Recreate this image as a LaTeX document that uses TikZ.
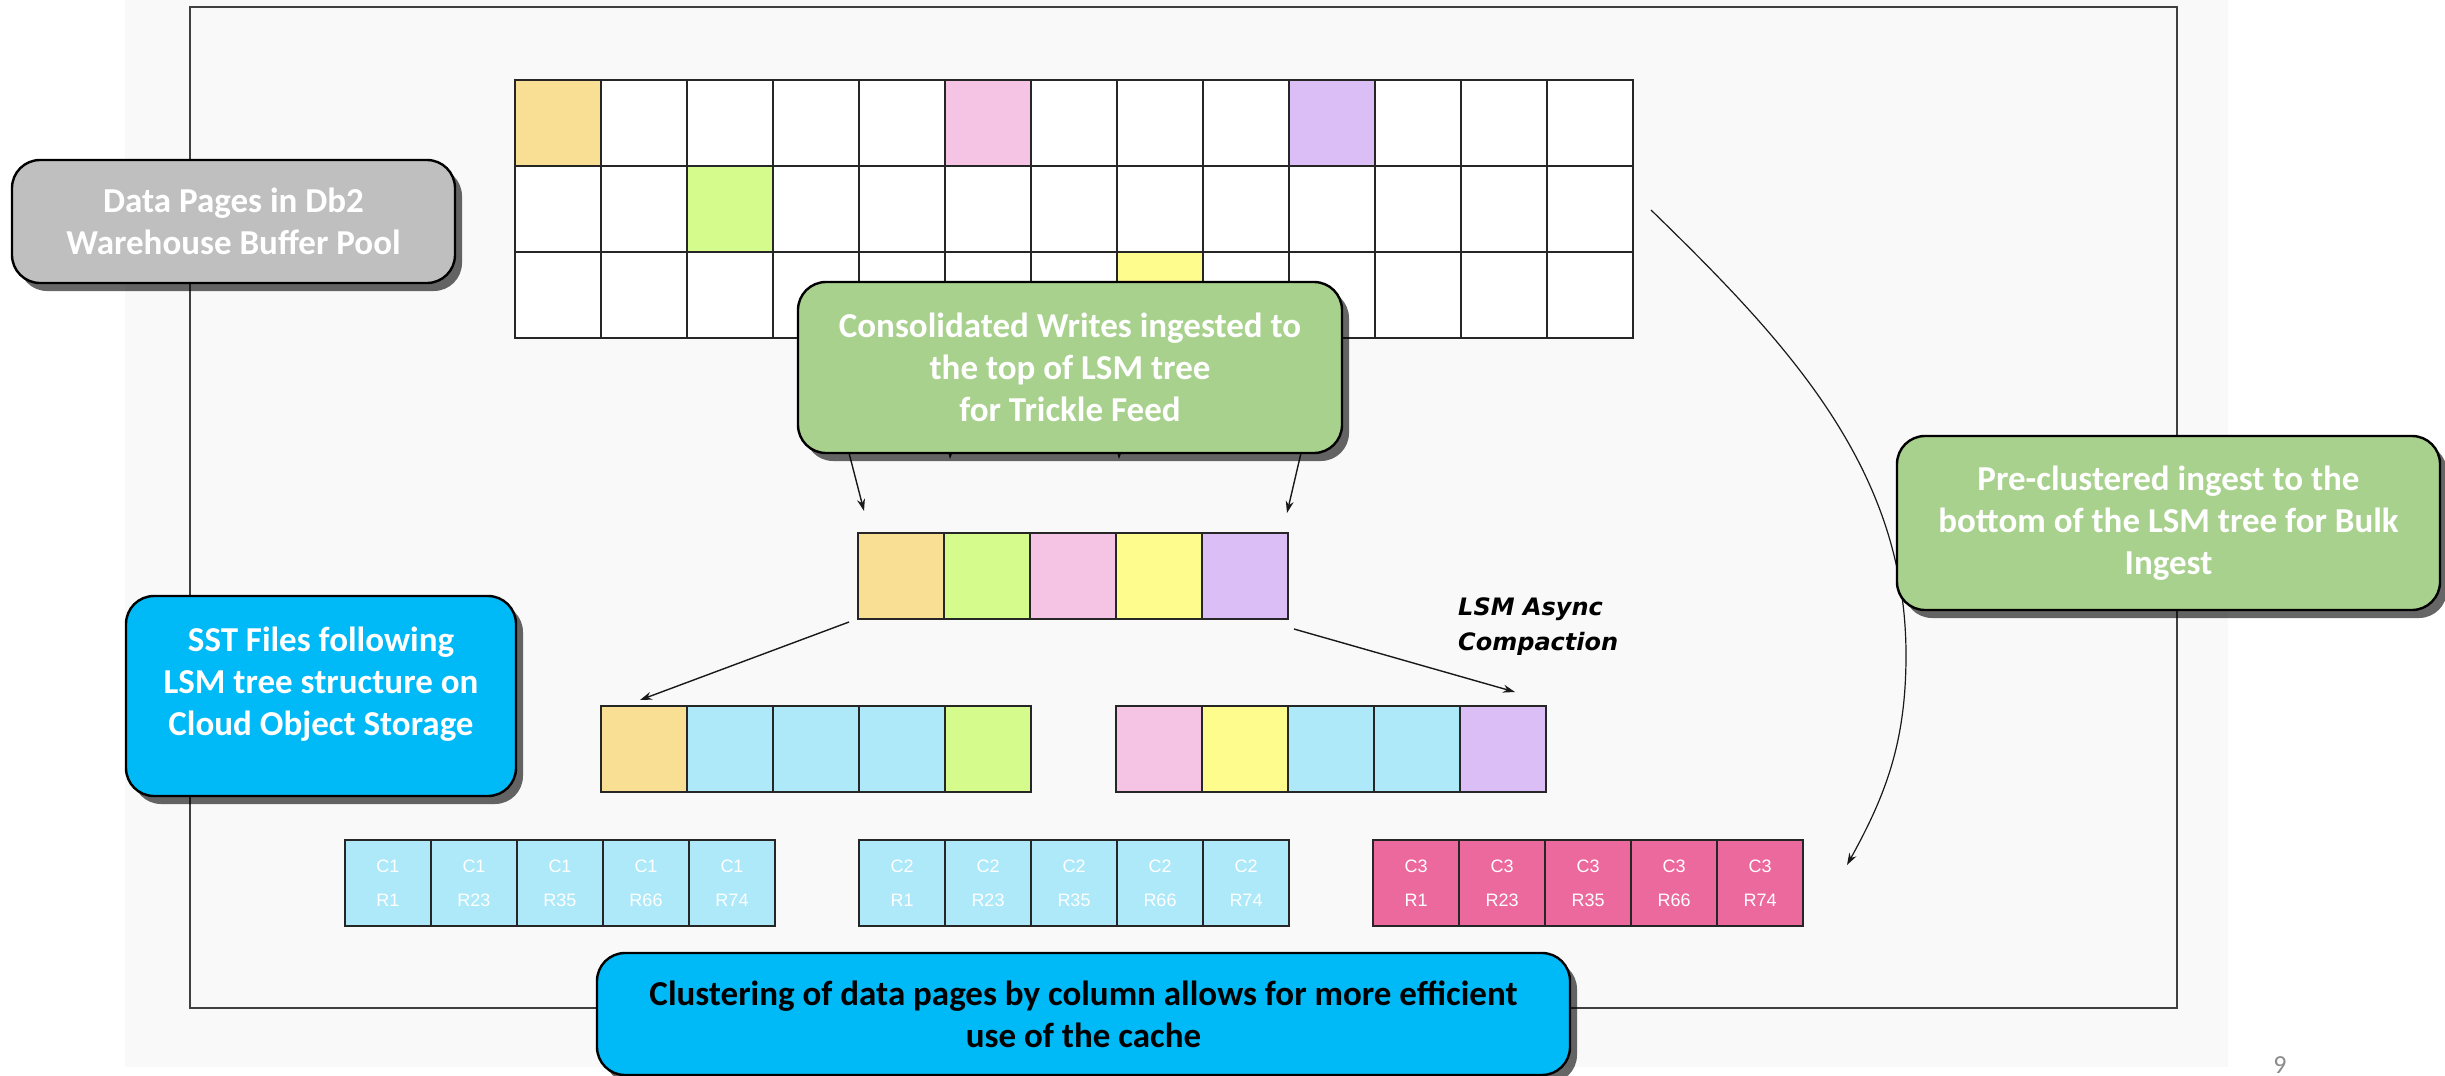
\documentclass[tikz,border=0pt]{standalone}
\usepackage{fontspec}
\setmainfont{Carlito}
\newfontfamily\labfont{Liberation Sans}
\newfontfamily\lsmfont{DejaVu Sans}
\usetikzlibrary{arrows.meta,shadows}
\definecolor{bggray}{HTML}{F9F9F9}
\definecolor{corange}{HTML}{F9DF94}
\definecolor{cgreen}{HTML}{D4FB8C}
\definecolor{cpink}{HTML}{F5C3E4}
\definecolor{cyellow}{HTML}{FEFC8C}
\definecolor{cpurple}{HTML}{DBBEF6}
\definecolor{cblue}{HTML}{AEE9F9}
\definecolor{cmag}{HTML}{EC699E}
\definecolor{boxgreen}{HTML}{A9D18E}
\definecolor{boxcyan}{HTML}{00B9F7}
\definecolor{boxgray}{HTML}{BFBFBF}
\begin{document}
\begin{tikzpicture}[x=1pt,y=-1pt,
  cell/.style={draw=black!85, line width=1.6pt, minimum width=86pt, minimum height=86pt,
    inner sep=0pt, outer sep=0pt, anchor=north west},
  ccell/.style={cell, text=white, align=center, font=\labfont\fontsize{18}{34}\selectfont},
  callout/.style={draw=black, line width=2.4pt, rounded corners=28pt, text=white, align=center,
    inner sep=0pt, font=\bfseries\fontsize{35}{42}\selectfont,
    drop shadow={shadow xshift=7pt, shadow yshift=-8pt, opacity=0.6, fill=black}},
  arr/.style={draw=black!90, line width=1.4pt, -{Stealth[length=12pt,width=8pt]}},
  frame/.style={draw=black!75, line width=2.2pt}
]
\useasboundingbox (0,0) rectangle (2445,1076);
\fill[white] (0,0) rectangle (2445,1076);
\fill[bggray] (125,0) rectangle (2228,1067);
\draw[frame] (190,7) rectangle (2177,1008);

% buffer pool grid
\foreach \col [count=\c from 0] in {corange,white,white,white,white,cpink,white,white,white,cpurple,white,white,white}
  {\node[cell, fill=\col] (ga-\c) at ({515+86*\c},80) {};}
\foreach \col [count=\c from 0] in {white,white,cgreen,white,white,white,white,white,white,white,white,white,white}
  {\node[cell, fill=\col] (gb-\c) at ({515+86*\c},166) {};}
\foreach \col [count=\c from 0] in {white,white,white,white,white,white,white,cyellow,white,white,white,white,white}
  {\node[cell, fill=\col] (gc-\c) at ({515+86*\c},252) {};}

% LSM top level
\foreach \col [count=\c from 0] in {corange,cgreen,cpink,cyellow,cpurple}
  {\node[cell, fill=\col] (m-\c) at ({858+86*\c},533) {};}
% level 2
\foreach \col [count=\c from 0] in {corange,cblue,cblue,cblue,cgreen}
  {\node[cell, fill=\col] (la-\c) at ({601+86*\c},706) {};}
\foreach \col [count=\c from 0] in {cpink,cyellow,cblue,cblue,cpurple}
  {\node[cell, fill=\col] (lb-\c) at ({1116+86*\c},706) {};}
% bottom level
\foreach \rl [count=\c from 0] in {R1,R23,R35,R66,R74}
  {\node[ccell, fill=cblue] (ca-\c) at ({345+86*\c},840) {C1\\\rl};
   \node[ccell, fill=cblue] (cb-\c) at ({859+86*\c},840) {C2\\\rl};
   \node[ccell, fill=cmag] (cc-\c) at ({1373+86*\c},840) {C3\\\rl};}

% arrows
\coordinate (a1s) at (849,453); \coordinate (a1e) at (864,511);
\coordinate (a2s) at (1301,453); \coordinate (a2e) at (1287,513);
\coordinate (a3s) at (849,622); \coordinate (a3e) at (640,700);
\coordinate (a4s) at (1294,629); \coordinate (a4e) at (1515,692);
\coordinate (h1s) at (952,420); \coordinate (h1e) at (950,459);
\coordinate (h2s) at (1120,420); \coordinate (h2e) at (1119,459);
\draw[arr] (h1s) -- (h1e);
\draw[arr] (h2s) -- (h2e);
\draw[arr] (a1s) -- (a1e);
\draw[arr] (a2s) -- (a2e);
\draw[arr] (a3s) -- (a3e);
\draw[arr] (a4s) -- (a4e);

% curved bulk ingest arrow
\coordinate (cs) at (1651,210); \coordinate (cm) at (1906,655); \coordinate (ce) at (1847,865);
\draw[arr, line width=1.2pt] (cs) .. controls (1790,345) and (1906,470) .. (cm)
  .. controls (1906,740) and (1887,793) .. (ce);

% LSM Async Compaction label
\node[font=\lsmfont\bfseries\itshape\fontsize{24}{35}\selectfont, anchor=base west, inner sep=0pt] (lsm1) at (1458,615) {LSM Async};
\node[font=\lsmfont\bfseries\itshape\fontsize{24}{35}\selectfont, anchor=base west, inner sep=0pt] (lsm2) at (1458,650) {Compaction};

% callouts
\node[callout, fill=boxgray, minimum width=443pt, minimum height=123pt] (dp) at (233.5,221.5)
  {Data Pages in Db2\\Warehouse Buffer Pool};
\node[callout, fill=boxgreen, minimum width=544pt, minimum height=171pt] (tw) at (1070,367.5)
  {Consolidated Writes ingested to\\the top of LSM tree\\for Trickle Feed};
\node[callout, fill=boxgreen, minimum width=543pt, minimum height=174pt] (pc) at (2168.5,523)
  {Pre-clustered ingest to the\\bottom of the LSM tree for Bulk\\Ingest};
\node[callout, fill=boxcyan, minimum width=390pt, minimum height=200pt] (sst) at (321,696) {};
\node[text=white, align=center, font=\bfseries\fontsize{35}{42}\selectfont, inner sep=0pt] (sstt) at (321,684)
  {SST Files following\\LSM tree structure on\\Cloud Object Storage};
\node[callout, fill=boxcyan, text=black, minimum width=973pt, minimum height=122pt] (cl) at (1083.5,1014)
  {Clustering of data pages by column allows for more efficient\\use of the cache};

\node[font=\fontsize{26}{28}\selectfont, text=black!45, anchor=base, inner sep=0pt] (pg) at (2280,1073) {9};
\end{tikzpicture}
\end{document}
